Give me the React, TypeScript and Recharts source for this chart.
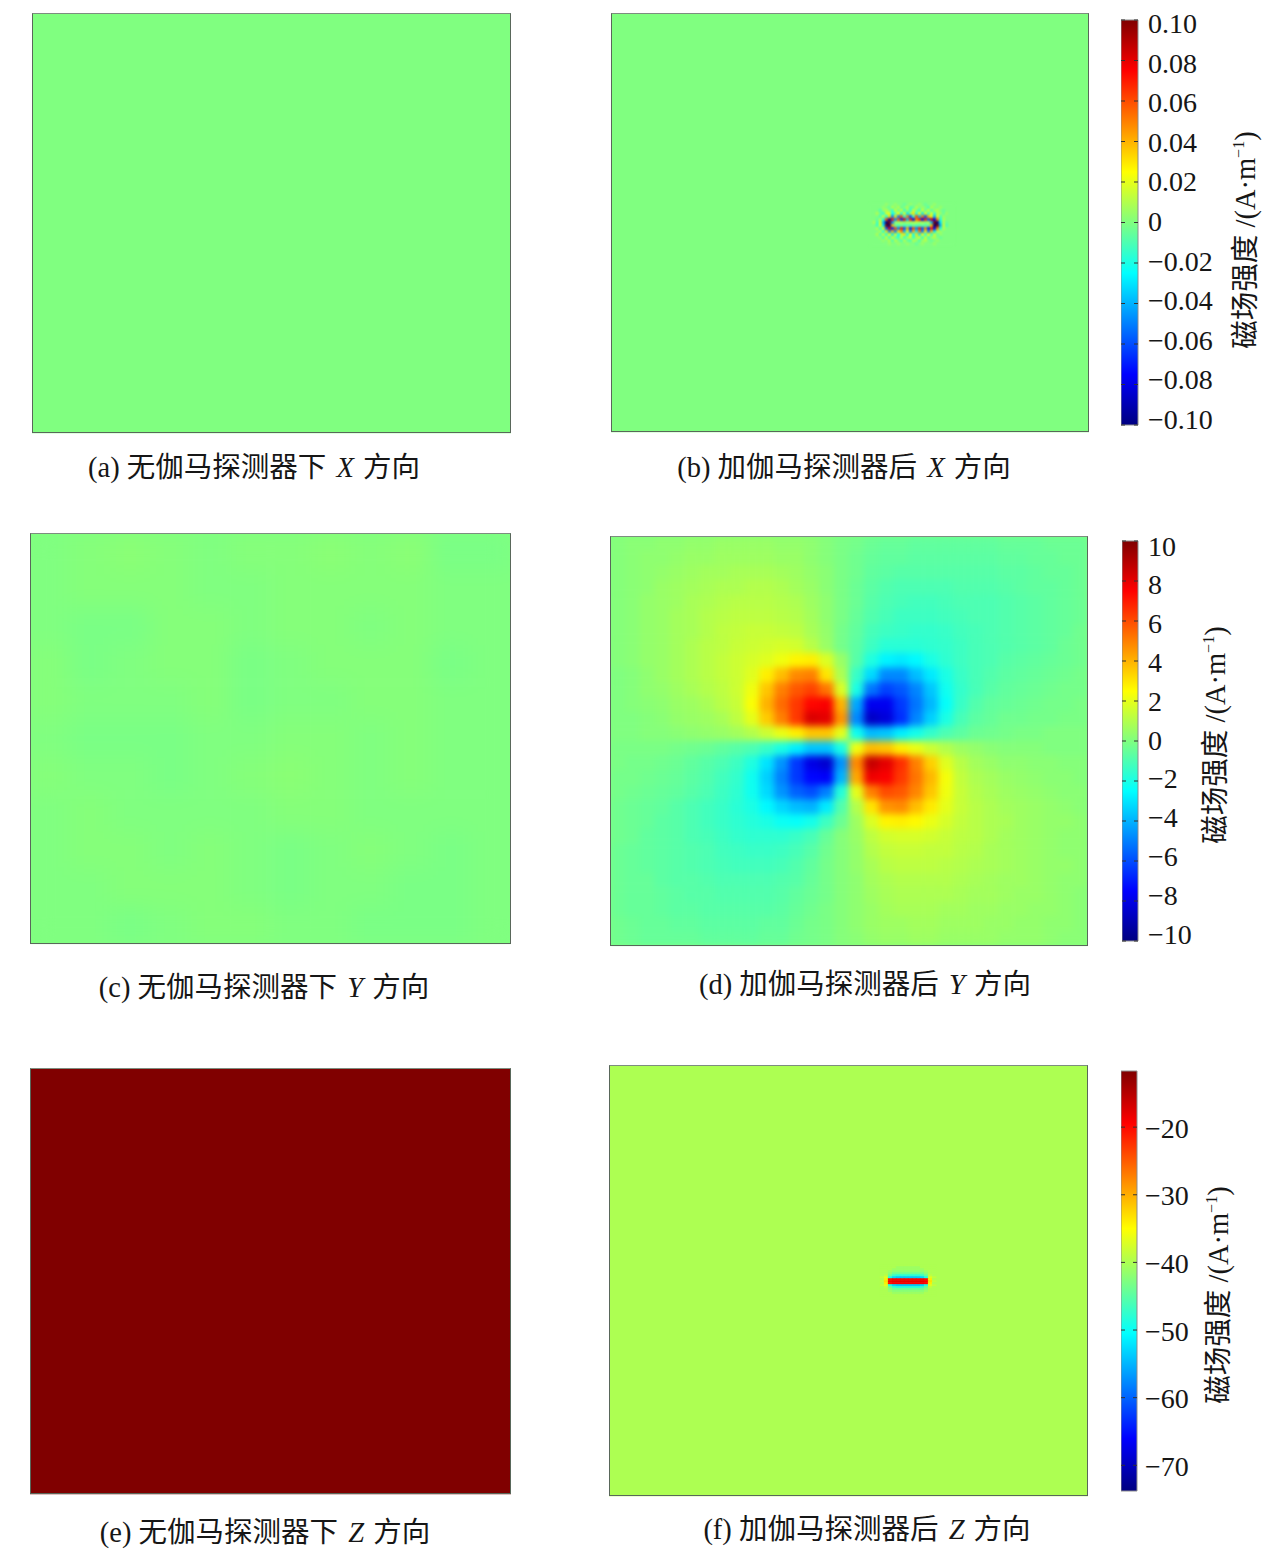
import { BarChart, Bar, CartesianGrid, Scatter, ScatterChart, XAxis, YAxis } from 'recharts'

// colour scale limits
const xDomain: [number, number] = [-0.1, 0.1]
const yDomain: [number, number] = [-10, 10]
const zDomain: [number, number] = [-73.8, -11.7]

const xTicks = [0.1, 0.08, 0.06, 0.04, 0.02, 0, -0.02, -0.04, -0.06, -0.08, -0.1]
const yTicks = [10, 8, 6, 4, 2, 0, -2, -4, -6, -8, -10]
const zTicks = [-20, -30, -40, -50, -60, -70]

const panelAValues = [[0]]
const panelEValues = [[-11.7]]
const panelFValues = [[-40]]
const panelBValues = [[0]]

const panelCValues = [
  [0, 0.001, 0.002, 0.001, 0, 0.001, 0.001, 0.002, 0.001, 0.002, -0.001, -0.001],
  [0, 0.001, 0.001, 0.001, 0, 0, 0.001, 0.001, 0.001, 0.001, 0, 0],
  [0, -0.001, -0.001, 0.001, 0.001, 0, 0.001, 0.001, 0, 0.001, 0, 0],
  [0.001, -0.001, 0, 0.001, 0.001, -0.001, 0, 0.001, 0.001, 0.001, -0.001, 0],
  [0.001, 0, 0, 0, 0.001, -0.001, 0, 0, 0.001, 0.001, 0, 0],
  [0, -0.001, -0.001, -0.001, 0, 0, 0.001, 0.001, 0, 0.001, 0, 0],
  [0.001, 0, 0, -0.001, 0, 0.001, 0.002, 0.001, 0, 0.001, 0, 0],
  [0, 0.001, 0, 0, 0, 0, 0.001, 0.001, 0, 0, 0, 0],
  [0, 0.001, 0.001, 0, 0.001, 0, -0.001, 0, 0.001, 0, -0.001, 0],
  [0, 0, 0.001, 0.001, 0.001, 0, -0.001, 0, 0, -0.001, -0.001, 0],
  [0, 0, -0.001, 0, 0.001, 0.001, 0, 0, -0.001, -0.001, -0.001, 0],
]

const panelDValues = [
  [.1,.2,.2,.3,.3,.4,.4,.5,.5,.5,.5,.4,.4,.3,.1,-.1,-.2,-.4,-.5,-.5,-.6,-.6,-.6,-.6,-.6,-.6,-.5,-.5,-.5,-.4,-.4,-.4],
  [.1,.2,.3,.3,.4,.5,.5,.6,.6,.6,.6,.5,.5,.3,.1,-.1,-.3,-.5,-.6,-.6,-.7,-.7,-.7,-.7,-.7,-.7,-.6,-.6,-.5,-.5,-.4,-.4],
  [.1,.2,.3,.4,.5,.6,.7,.7,.8,.8,.8,.7,.6,.4,.2,-.1,-.3,-.6,-.7,-.8,-.8,-.8,-.8,-.8,-.8,-.8,-.7,-.7,-.6,-.5,-.5,-.4],
  [.1,.2,.3,.5,.6,.7,.8,.9,.9,1,1,.9,.7,.5,.2,-.1,-.4,-.7,-.9,-1,-1,-1,-1,-.9,-.9,-.9,-.8,-.7,-.6,-.6,-.5,-.4],
  [.1,.2,.4,.5,.6,.8,.9,1,1.1,1.1,1.1,1,.9,.6,.3,-.1,-.4,-.8,-1,-1.1,-1.2,-1.2,-1.1,-1,-1,-1,-.9,-.8,-.7,-.6,-.5,-.4],
  [.1,.2,.4,.5,.7,.8,1,1.1,1.2,1.2,1.2,1.1,1,.7,.3,-.1,-.5,-.9,-1.1,-1.3,-1.3,-1.3,-1.2,-1.1,-1,-1,-.9,-.8,-.7,-.6,-.5,-.4],
  [.1,.2,.4,.5,.7,.8,1,1.2,1.3,1.4,1.4,1.3,1.2,.8,.4,-.2,-.6,-1.1,-1.3,-1.4,-1.5,-1.5,-1.4,-1.2,-1.1,-1,-.9,-.8,-.7,-.6,-.5,-.3],
  [.1,.2,.4,.5,.7,.9,1.1,1.2,1.4,1.5,1.6,1.7,1.6,1.1,.5,-.2,-.7,-1.3,-1.7,-1.7,-1.7,-1.6,-1.5,-1.3,-1.1,-1,-.9,-.8,-.7,-.6,-.4,-.3],
  [.1,.2,.4,.5,.7,.9,1.1,1.3,1.5,1.7,1.9,2.2,2.7,2.8,1.8,.5,-.8,-1.9,-2.7,-2.9,-2.6,-2,-1.6,-1.3,-1.1,-1,-.8,-.7,-.6,-.5,-.4,-.3],
  [0,.1,.3,.5,.7,.9,1.1,1.3,1.5,1.9,2.8,3.8,4.8,5,3,.9,-1.4,-3.2,-4.8,-4.8,-3.8,-2.9,-2,-1.4,-1.1,-.9,-.7,-.6,-.5,-.4,-.3,-.2],
  [0,.1,.3,.4,.6,.8,1,1.2,1.5,2.2,3.6,5,5.8,6.2,5.2,1.8,-2,-5.2,-6.2,-5.8,-4.9,-3.6,-2.2,-1.5,-1.1,-.8,-.6,-.5,-.4,-.3,-.2,-.2],
  [0,.1,.2,.3,.5,.6,.8,1.1,1.4,2.4,4,5.4,6.4,7.4,7.6,4,-4.2,-7.8,-7.8,-6.4,-5.2,-3.9,-2.4,-1.4,-.9,-.6,-.5,-.4,-.3,-.2,-.2,-.1],
  [0,0,.1,.2,.4,.5,.6,.8,1.2,2,3.5,5,6.4,8.2,8,4.6,-4.8,-8.6,-8.2,-6.6,-4.9,-3.4,-2,-1.1,-.7,-.5,-.3,-.3,-.2,-.2,-.1,-.1],
  [0,0,.1,.1,.2,.3,.4,.5,.7,1,1.5,2.1,2.8,3.6,3.6,2,-2.2,-3.8,-3.6,-2.8,-2.1,-1.5,-1,-.7,-.4,-.3,-.2,-.1,-.1,0,0,0],
  [-.1,-.1,-.1,-.1,-.2,-.3,-.4,-.6,-.8,-1,-1.4,-2,-2.8,-3.6,-3.6,-2,2.2,3.8,3.6,2.8,2.1,1.5,1,.6,.4,.2,.1,.1,.1,0,0,0],
  [-.1,-.2,-.2,-.3,-.4,-.6,-.8,-1,-1.3,-1.9,-3,-4.6,-6.4,-8,-8.4,-4.6,4.8,8.6,8,6.6,5,3.4,1.9,1.1,.7,.5,.3,.3,.2,.2,.1,.1],
  [-.2,-.2,-.3,-.4,-.5,-.7,-.9,-1.2,-1.5,-2.2,-3.4,-5,-6.4,-7.4,-7.6,-4,4.2,7.8,7.6,6.4,5.2,3.9,2.3,1.3,.9,.7,.5,.4,.3,.2,.2,.1],
  [-.2,-.3,-.4,-.5,-.6,-.8,-1,-1.3,-1.6,-2.2,-3.2,-4.6,-5.6,-6,-5,-1.8,2,5,6,5.8,4.9,3.6,2.2,1.4,1,.8,.6,.5,.4,.3,.2,.2],
  [-.3,-.4,-.5,-.6,-.8,-1,-1.2,-1.4,-1.7,-2,-2.6,-3.3,-3.8,-4,-2.9,-.9,1,3,4.6,4.8,3.8,2.9,2,1.4,1.1,.9,.7,.6,.5,.4,.3,.2],
  [-.3,-.4,-.5,-.7,-.8,-1,-1.2,-1.4,-1.6,-1.8,-2,-2.3,-2.4,-2.1,-1.3,-.4,.6,1.8,2.7,2.8,2.6,2.1,1.7,1.3,1.1,.9,.8,.6,.5,.4,.4,.3],
  [-.3,-.4,-.6,-.7,-.8,-1,-1.1,-1.3,-1.5,-1.6,-1.6,-1.6,-1.4,-1.1,-.5,.1,.5,1.2,1.6,1.7,1.7,1.6,1.4,1.2,1.1,.9,.7,.6,.5,.4,.3,.3],
  [-.4,-.5,-.6,-.7,-.8,-.9,-1,-1.2,-1.3,-1.4,-1.4,-1.3,-1.1,-.8,-.3,.1,.4,1,1.3,1.4,1.4,1.3,1.3,1.1,1,.8,.7,.6,.5,.4,.3,.3],
  [-.4,-.5,-.6,-.7,-.8,-.9,-1,-1.1,-1.2,-1.2,-1.2,-1.1,-.9,-.6,-.2,.1,.4,.8,1.1,1.2,1.2,1.2,1.1,1,.9,.8,.7,.6,.5,.4,.4,.3],
  [-.4,-.5,-.5,-.7,-.8,-.8,-.9,-1,-1,-1,-1,-.9,-.8,-.5,-.2,.1,.3,.7,.9,1,1,1,1,.9,.8,.7,.6,.6,.5,.4,.3,.3],
  [-.4,-.5,-.5,-.6,-.7,-.8,-.8,-.9,-.9,-.9,-.9,-.8,-.6,-.4,-.2,.1,.3,.6,.8,.9,.9,.9,.9,.8,.7,.7,.6,.5,.5,.4,.3,.2],
  [-.4,-.5,-.5,-.6,-.7,-.7,-.8,-.8,-.8,-.8,-.8,-.7,-.5,-.3,-.1,.1,.3,.5,.7,.8,.8,.8,.7,.7,.6,.6,.5,.5,.4,.4,.3,.2],
  [-.3,-.4,-.5,-.5,-.6,-.6,-.7,-.7,-.7,-.7,-.6,-.6,-.4,-.2,-.1,.1,.3,.5,.6,.6,.7,.7,.6,.6,.6,.5,.5,.4,.4,.3,.3,.2],
  [-.3,-.4,-.5,-.5,-.5,-.5,-.6,-.6,-.6,-.6,-.5,-.5,-.3,-.2,-.1,.1,.2,.4,.5,.5,.6,.6,.5,.5,.5,.5,.4,.4,.4,.3,.2,.2],
]

// speckle round the detector in panel (b)
const panelBDetail = [
  [0,0,0,0,0,.005,0,0,.005,0,0,-.005,0,.005,0,0,.005,0,-.005,0,0,.005,0,0,0,0,0,0],
  [0,0,0,0,.005,0,-.005,.01,0,.01,-.005,0,.01,-.01,-.005,.01,0,.005,0,-.01,.01,0,0,.005,0,0,0,0],
  [0,0,0,-.01,.005,.01,0,-.015,.015,-.005,.015,-.015,.005,-.015,.015,0,-.015,.015,-.005,.015,-.01,.005,.01,0,-.005,0,0,0],
  [0,0,.01,-.005,-.015,.015,.02,-.025,-.005,.025,-.02,.02,-.03,.005,.03,-.02,.025,-.03,.02,-.015,.02,-.015,.01,.005,-.005,.005,0,0],
  [0,0,0,-.01,.015,-.02,.03,-.05,.03,-.05,.06,-.02,.05,-.06,-.01,.06,-.04,.05,-.06,.04,.02,-.04,.02,-.01,.005,0,0,0],
  [0,0,-.005,.01,-.02,.06,-.09,.07,-.05,.06,-.07,.08,-.04,.07,-.08,.05,.07,-.08,.07,-.06,.08,-.08,.05,-.02,.01,0,0,0],
  [0,.01,-.015,.02,-.04,-.1,.11,-.05,.005,.005,.01,0,.01,.005,.01,.01,.005,.01,0,.01,-.04,.11,-.1,-.03,.01,-.005,0,0],
  [0,0,-.015,.02,-.03,.11,-.1,.04,-.005,-.01,-.005,-.01,-.01,-.01,-.005,-.01,-.01,-.005,-.01,-.005,.04,-.1,.11,-.04,.015,-.01,0,0],
  [0,0,.01,-.015,.02,-.06,.08,-.07,.06,-.05,.07,-.06,.04,-.07,.06,-.05,.07,-.06,.05,-.07,.07,-.08,.05,-.02,.01,0,0,0],
  [0,0,0,.01,-.02,.03,-.05,.04,-.05,.03,.05,-.04,.02,-.05,.04,-.03,.05,-.05,.03,-.05,.04,-.03,.01,.005,0,0,0,0],
  [0,0,.01,-.01,.015,-.02,.025,-.03,.02,-.025,.01,.03,-.025,.025,-.025,.03,-.03,.025,-.02,.025,-.015,.015,-.005,.005,0,0,0,0],
  [0,0,0,.005,-.01,.015,-.015,.015,-.005,-.015,.015,-.015,.005,.015,-.015,.005,.015,-.015,.015,-.01,.005,.01,0,-.005,0,0,0,0],
  [0,0,0,0,.005,0,.01,-.01,.01,0,-.01,.01,-.005,-.01,.01,.005,-.01,.005,.01,0,-.005,0,.005,0,0,0,0,0],
  [0,0,0,0,0,0,.005,0,0,.005,0,0,.005,0,0,-.005,0,.005,0,0,0,.005,0,0,0,0,0,0],
]

// the magnetised strip in panel (f)
const panelFDetail = [
  [-40,-40,-40,-40,-40,-40,-40,-40,-40,-40,-40,-40,-40,-40],
  [-40,-40,-40,-40,-41,-41,-41,-41,-41,-41,-40,-40,-40,-40],
  [-40,-40,-40,-41,-41,-41,-41,-41,-41,-41,-41,-40,-40,-40],
  [-40,-40,-41,-42,-42,-42,-42,-42,-42,-42,-42,-41,-40,-40],
  [-40,-40,-42,-44,-44,-44,-44,-44,-44,-44,-44,-42,-40,-40],
  [-40,-39,-44,-47,-48,-48,-48,-48,-48,-48,-47,-44,-39,-40],
  [-39,-37,-49,-53,-54,-54,-54,-54,-54,-54,-53,-49,-37,-39],
  [-40,-34,-20,-19,-19,-19,-19,-19,-19,-19,-19,-20,-34,-40],
  [-39,-33,-19,-18,-18,-18,-18,-18,-18,-18,-18,-19,-33,-39],
  [-40,-34,-20,-19,-19,-19,-19,-19,-19,-19,-19,-20,-34,-40],
  [-39,-37,-49,-53,-54,-54,-54,-54,-54,-54,-53,-49,-37,-39],
  [-40,-39,-44,-47,-48,-48,-48,-48,-48,-48,-47,-44,-39,-40],
  [-40,-40,-42,-44,-44,-44,-44,-44,-44,-44,-44,-42,-40,-40],
  [-40,-40,-41,-42,-42,-42,-42,-42,-42,-42,-42,-41,-40,-40],
  [-40,-40,-40,-41,-41,-41,-41,-41,-41,-41,-41,-40,-40,-40],
  [-40,-40,-40,-40,-40,-40,-40,-40,-40,-40,-40,-40,-40,-40],
]

const FONT = '"Liberation Serif", "Noto Sans CJK SC", serif'
const INK = '#161616'
const JET = [
  ['0%', '#000080'],
  ['12.5%', '#0000ff'],
  ['37.5%', '#00ffff'],
  ['62.5%', '#ffff00'],
  ['87.5%', '#ff0000'],
  ['100%', '#800000'],
]

function jet(value: number, [lo, hi]: [number, number]) {
  const t = Math.min(1, Math.max(0, (value - lo) / (hi - lo)))
  const c = (v: number) => Math.round(255 * Math.min(1, Math.max(0, 1.5 - Math.abs(4 * t - v))))
  return `rgb(${c(3)},${c(2)},${c(1)})`
}

// turns rows of values into cell centres in axis units (0-100 on both axes)
function toCells(rows: number[][], x0 = 0, x1 = 100, y0 = 0, y1 = 100) {
  const out: { x: number; y: number; v: number }[] = []
  rows.forEach((row, r) =>
    row.forEach((v, c) => {
      out.push({
        x: x0 + ((c + 0.5) / row.length) * (x1 - x0),
        y: y1 - ((r + 0.5) / rows.length) * (y1 - y0),
        v,
      })
    }),
  )
  return out
}

function cellShape(w: number, h: number, domain: [number, number]) {
  return (p: any) => (
    <rect
      x={p.cx - w / 2 - 0.25}
      y={p.cy - h / 2 - 0.25}
      width={w + 0.5}
      height={h + 0.5}
      fill={jet(p.payload.v, domain)}
    />
  )
}

function Caption({ tag, pre, axis, centerX, y }: any) {
  return (
    <text x={centerX} y={y} textAnchor="middle" fontFamily={FONT} fontSize={28.5} fill={INK}>
      {tag} {pre}
      <tspan dx={3} fontStyle="italic"> {axis} </tspan>
      <tspan dx={2}>方向</tspan>
    </text>
  )
}

function HeatPanel({ left, top, width, height, values, domain, base, blur, detail, caption }: any) {
  const cells = toCells(values)
  const cw = width / values[0].length
  const ch = height / values.length
  const captionHeight = 80
  return (
    <div style={{ position: 'absolute', left, top }}>
      <ScatterChart width={width} height={height + captionHeight} margin={{ top: 0, right: 0, bottom: 0, left: 0 }}>
        <CartesianGrid horizontal={false} vertical={false} fill={base} />
        <XAxis
          type="number"
          dataKey="x"
          domain={[0, 100]}
          height={captionHeight}
          tick={false}
          axisLine={false}
          label={{
            content: () => <Caption {...caption} centerX={caption.x - left} y={height + caption.dy} />,
          }}
        />
        <YAxis type="number" dataKey="y" domain={[0, 100]} hide />
        <Scatter data={cells} className={blur} isAnimationActive={false} shape={cellShape(cw, ch, domain)} />
        {detail && (
          <Scatter
            data={toCells(detail.rows, detail.x0, detail.x1, detail.y0, detail.y1)}
            className={detail.blur}
            isAnimationActive={false}
            shape={cellShape(
              (((detail.x1 - detail.x0) / 100) * width) / detail.rows[0].length,
              (((detail.y1 - detail.y0) / 100) * height) / detail.rows.length,
              domain,
            )}
          />
        )}
      </ScatterChart>
      <div
        style={{
          position: 'absolute',
          left: 0,
          top: 0,
          width,
          height,
          boxSizing: 'border-box',
          border: '1px solid #59675a',
          borderTopColor: '#7d8d7f',
        }}
      />
    </div>
  )
}

function ColorTick({ x, y, payload, digits, midY, squeeze, barWidth, textGap, shift }: any) {
  const v = payload.value
  const label = (v < 0 ? '\u2212' : '') + (v === 0 ? '0' : Math.abs(v).toFixed(digits))
  const ty = midY + (y - midY) * squeeze + shift
  return (
    <g>
      <line x1={x - 4} x2={x} y1={y} y2={y} stroke="#333" strokeWidth={1} />
      <line x1={x - barWidth} x2={x - barWidth + 4} y1={y} y2={y} stroke="#333" strokeWidth={1} />
      <text x={x + textGap} y={ty} dy="0.34em" fontFamily={FONT} fontSize={28} fill={INK}>
        {label}
      </text>
    </g>
  )
}

function ColorBar({ id, left, top, height, barWidth, domain, ticks, digits, squeeze, shift, textGap, labelX, labelY }: any) {
  const data = [{ name: 'scale', range: domain }]
  const axisWidth = 150
  const pad = 20
  return (
    <div style={{ position: 'absolute', left, top: top - pad }}>
      <BarChart
        width={barWidth + axisWidth}
        height={height + pad * 2}
        data={data}
        barCategoryGap={0}
        margin={{ top: pad, right: 0, bottom: pad, left: 0 }}
      >
        <defs>
          <linearGradient id={id} x1="0" y1="1" x2="0" y2="0">
            {JET.map(([offset, color]) => (
              <stop key={offset} offset={offset} stopColor={color} />
            ))}
          </linearGradient>
        </defs>
        <XAxis dataKey="name" hide />
        <YAxis
          orientation="right"
          type="number"
          width={axisWidth}
          domain={domain}
          ticks={ticks}
          interval={0}
          axisLine={false}
          tickLine={false}
          tickSize={0}
          tickMargin={0}
          tick={(p: any) => (
            <ColorTick {...p} digits={digits} midY={height / 2 + pad} squeeze={squeeze} shift={shift} barWidth={barWidth} textGap={textGap} />
          )}
          label={{
            content: () => (
              <text
                transform={`translate(${labelX} ${labelY + pad}) rotate(-90)`}
                textAnchor="middle"
                dy="0.34em"
                fontFamily={FONT}
                fontSize={28.5}
                fill={INK}
              >
                磁场强度 /(A·m<tspan dy="-11" fontSize={16}>−1</tspan>
                <tspan dy="11">)</tspan>
              </text>
            ),
          }}
        />
        <Bar dataKey="range" fill={`url(#${id})`} stroke="#8d8d8d" strokeWidth={1} isAnimationActive={false} />
      </BarChart>
    </div>
  )
}

export default function App() {
  return (
    <div style={{ position: 'absolute', left: 0, top: 0, width: 1265, height: 1562, background: '#fff' }}>
      <style>{`
        .blur-d { filter: url(#blurD); clip-path: inset(0); }
        .blur-c { filter: url(#blurC); clip-path: inset(0); }
        .blur-b { filter: url(#blurB); }
        .blur-f { filter: url(#blurF); }
      `}</style>
      <svg width={0} height={0} style={{ position: 'absolute' }}>
        <defs>
          <filter id="blurD" colorInterpolationFilters="sRGB" x="-5%" y="-5%" width="110%" height="110%">
            <feGaussianBlur stdDeviation={3.5} />
          </filter>
          <filter id="blurC" colorInterpolationFilters="sRGB" x="-5%" y="-5%" width="110%" height="110%">
            <feGaussianBlur stdDeviation={11} />
          </filter>
          <filter id="blurB" colorInterpolationFilters="sRGB" x="-10%" y="-10%" width="120%" height="120%">
            <feGaussianBlur stdDeviation={1} />
          </filter>
          <filter id="blurF" colorInterpolationFilters="sRGB" x="-10%" y="-10%" width="120%" height="120%">
            <feGaussianBlur stdDeviation={0.7} />
          </filter>
        </defs>
      </svg>

      <HeatPanel
        left={32} top={13} width={479} height={420}
        values={panelAValues} domain={xDomain} base="#80ff80"
        caption={{ tag: '(a)', pre: '无伽马探测器下', axis: 'X', dy: 44, x: 254 }}
      />
      <HeatPanel
        left={611} top={13} width={478} height={419}
        values={panelBValues} domain={xDomain} base="#80ff80"
        detail={{ rows: panelBDetail, x0: 54.2, x1: 71.8, y0: 44.6, y1: 54.6, blur: 'blur-b' }}
        caption={{ tag: '(b)', pre: '加伽马探测器后', axis: 'X', dy: 45, x: 844 }}
      />
      <HeatPanel
        left={30} top={533} width={481} height={411}
        values={panelCValues} domain={xDomain} base="#80ff80" blur="blur-c"
        caption={{ tag: '(c)', pre: '无伽马探测器下', axis: 'Y', dy: 53, x: 264 }}
      />
      <HeatPanel
        left={610} top={536} width={478} height={410}
        values={panelDValues} domain={yDomain} base="#80ff80" blur="blur-d"
        caption={{ tag: '(d)', pre: '加伽马探测器后', axis: 'Y', dy: 48, x: 865 }}
      />
      <HeatPanel
        left={30} top={1068} width={481} height={426}
        values={panelEValues} domain={zDomain} base="#800000"
        caption={{ tag: '(e)', pre: '无伽马探测器下', axis: 'Z', dy: 48, x: 265 }}
      />
      <HeatPanel
        left={609} top={1065} width={479} height={431}
        values={panelFValues} domain={zDomain} base="#aaff55"
        detail={{ rows: panelFDetail, x0: 56.6, x1: 68.3, y0: 46.3, y1: 53.7, blur: 'blur-f' }}
        caption={{ tag: '(f)', pre: '加伽马探测器后', axis: 'Z', dy: 43, x: 867 }}
      />

      <ColorBar
        id="jetX" left={1121} top={20} height={405} barWidth={17}
        domain={xDomain} ticks={xTicks} digits={2} squeeze={0.978} shift={-1} textGap={10}
        labelX={124} labelY={220}
      />
      <ColorBar
        id="jetY" left={1122} top={541} height={400} barWidth={16}
        domain={yDomain} ticks={yTicks} digits={0} squeeze={0.97} shift={-1} textGap={10}
        labelX={93} labelY={194}
      />
      <ColorBar
        id="jetZ" left={1121} top={1071} height={420} barWidth={16}
        domain={zDomain} ticks={zTicks} digits={0} squeeze={1} shift={1} textGap={8}
        labelX={97} labelY={224}
      />
    </div>
  )
}
